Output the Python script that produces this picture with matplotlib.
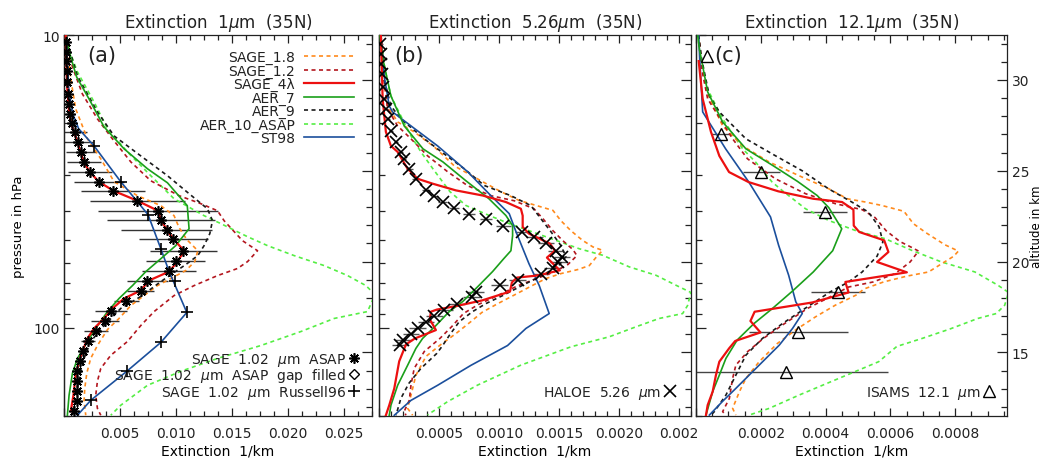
import numpy as np
import matplotlib.pyplot as plt
from matplotlib.lines import Line2D
from matplotlib.ticker import FixedLocator

plt.rcParams['font.family'] = ['DejaVu Sans']
plt.rcParams['lines.scale_dashes'] = False
plt.rcParams['text.color'] = '#222222'
plt.rcParams['xtick.color'] = '#222222'
plt.rcParams['ytick.color'] = '#222222'

# ---- data: extinction (1/km) vs altitude (km) ----
# panel (a) 1 um
a_sage18_ext = [0.0002, 0.0006, 0.00104, 0.00209, 0.00328, 0.00447, 0.00655, 0.00864, 0.00982, 0.01027, 0.01096, 0.01194, 0.01167, 0.01087, 0.00953, 0.00834, 0.00714, 0.00596, 0.00491, 0.00388, 0.00298, 0.00238, 0.00203, 0.00185, 0.00179, 0.00194]
a_sage18_alt = [32.47, 30.05, 28.41, 26.76, 25.66, 24.40, 23.63, 23.08, 22.53, 21.87, 21.21, 20.60, 20.0, 19.51, 19.07, 18.68, 18.13, 17.58, 16.87, 16.26, 15.38, 14.67, 13.85, 13.02, 12.31, 11.54]
a_sage12_ext = [0.0002, 0.00075, 0.00164, 0.00298, 0.00432, 0.00596, 0.00774, 0.01027, 0.01221, 0.0137, 0.01429, 0.01593, 0.01727, 0.01638, 0.01548, 0.0137, 0.01161, 0.00982, 0.00804, 0.00685, 0.00566, 0.00417, 0.00328, 0.00298, 0.00283, 0.00298, 0.00328]
a_sage12_alt = [32.47, 30.71, 29.23, 27.86, 26.76, 25.49, 24.45, 23.63, 23.19, 22.80, 22.25, 21.15, 20.60, 20.0, 19.62, 19.23, 18.68, 18.13, 17.25, 16.48, 15.60, 14.84, 14.12, 13.41, 12.64, 11.92, 11.54]
a_sage4_ext = [0.00015, 0.0002, 0.00029, 0.00042, 0.00064, 0.00096, 0.00131, 0.00167, 0.00221, 0.0031, 0.00441, 0.00655, 0.00839, 0.00864, 0.00917, 0.0098, 0.01072, 0.01013, 0.00938, 0.00759, 0.00685, 0.00536, 0.00432, 0.00357, 0.00268, 0.00209, 0.00164, 0.00134, 0.00104, 0.00084, 0.0006]
a_sage4_alt = [32.47, 31.15, 29.51, 28.41, 27.58, 27.03, 26.37, 25.66, 25.0, 24.40, 23.90, 23.35, 22.80, 22.31, 21.76, 21.21, 20.60, 20.0, 19.45, 18.96, 18.41, 17.97, 17.42, 16.87, 16.32, 15.77, 15.05, 14.51, 13.74, 12.64, 11.76]
a_aer7_ext = [0.00015, 0.0006, 0.00113, 0.00223, 0.00357, 0.00536, 0.00745, 0.00923, 0.0110, 0.01116, 0.00997, 0.00864, 0.0073, 0.00611, 0.00491, 0.00388, 0.00283, 0.00209, 0.0012, 0.00075, 0.00045, 0.0003]
a_aer7_alt = [32.47, 31.26, 30.16, 28.96, 27.42, 26.21, 25.11, 24.34, 23.08, 21.81, 20.88, 20.16, 19.45, 18.68, 17.97, 17.25, 16.32, 15.60, 14.67, 13.85, 12.64, 11.54]
a_aer9_ext = [0.0002, 0.0006, 0.0012, 0.00298, 0.00447, 0.00685, 0.00923, 0.01116, 0.0128, 0.01325, 0.01301, 0.0125, 0.01194, 0.01087, 0.00864, 0.00685, 0.00506, 0.00357, 0.00238, 0.00179, 0.00134, 0.00104, 0.00075]
a_aer9_alt = [32.47, 31.43, 30.22, 28.24, 26.92, 25.82, 24.73, 23.74, 22.91, 22.25, 21.54, 20.88, 20.33, 19.84, 18.90, 18.08, 17.42, 16.48, 15.60, 14.67, 13.57, 12.47, 11.54]
a_aer10_ext = [0.0002, 0.0006, 0.0012, 0.00268, 0.00388, 0.00566, 0.00774, 0.00982, 0.0125, 0.0140, 0.01638, 0.01816, 0.02054, 0.02322, 0.02531, 0.02694, 0.02775, 0.02709, 0.02411, 0.02114, 0.01757, 0.0137, 0.01042, 0.00745, 0.00506, 0.00417]
a_aer10_alt = [32.47, 31.43, 30.44, 28.79, 27.31, 26.04, 24.73, 23.46, 22.53, 22.09, 21.37, 20.88, 20.33, 19.78, 19.23, 18.68, 18.19, 17.25, 16.87, 16.15, 15.38, 14.67, 13.96, 13.19, 12.09, 11.54]
a_st98_ext = [0.0002, 0.00042, 0.00078, 0.00131, 0.00268, 0.00506, 0.00655, 0.0075, 0.00864, 0.00938, 0.01096, 0.00864, 0.0056, 0.00238, 0.0012]
a_st98_alt = [32.47, 29.51, 28.13, 27.31, 26.37, 24.40, 23.30, 22.58, 20.71, 19.45, 17.20, 15.55, 13.96, 12.36, 11.54]
# SAGE 1.02 um ASAP with error, and Russell96 points
a_asap_ext = [0.00018, 0.0002, 0.00021, 0.00024, 0.0003, 0.00039, 0.00045, 0.00054, 0.00069, 0.00096, 0.00129, 0.00149, 0.00179, 0.0023, 0.00313, 0.00441, 0.00655, 0.00839, 0.00864, 0.00917, 0.00977, 0.01066, 0.00997, 0.00938, 0.00745, 0.00685, 0.00557, 0.00423, 0.00366, 0.00283, 0.00216, 0.00173, 0.0014, 0.00118, 0.00113, 0.00113, 0.00113, 0.00091]
a_asap_alt = [32.09, 31.54, 31.04, 30.49, 29.89, 29.23, 28.68, 28.13, 27.64, 27.14, 26.59, 26.04, 25.49, 24.96, 24.41, 23.90, 23.35, 22.80, 22.29, 21.74, 21.23, 20.60, 20.05, 19.47, 18.92, 18.37, 17.82, 17.27, 16.72, 16.17, 15.62, 15.07, 14.52, 13.97, 13.42, 12.87, 12.32, 11.77]
a_asap_err = [0, 0, 0, 0, 0, 0, 0, 0, 0, 0.0011, 0.00134, 0.00134, 0.00149, 0.00194, 0.00223, 0.00286, 0.00424, 0.00536, 0.0048, 0.00406, 0.00305, 0.00302, 0.00263, 0.00238, 0.00179, 0.00119, 0.00112, 0.00143, 0.00125, 0.00107, 0.00063, 0.00036, 0.0002, 0, 0, 0, 0, 0]
a_russ_ext = [0.00268, 0.00506, 0.0075, 0.00864, 0.00989, 0.01096, 0.00864, 0.0056, 0.00238]
a_russ_alt = [26.37, 24.40, 22.58, 20.71, 18.92, 17.20, 15.55, 13.96, 12.36]

# panel (b) 5.26 um
b_sage18_ext = [0.0000167, 0.000042, 0.000072, 0.000156, 0.000294, 0.000461, 0.000628, 0.00085, 0.001017, 0.001167, 0.00145, 0.001517, 0.0016, 0.001697, 0.001783, 0.001864, 0.001808, 0.001753, 0.001656, 0.001517, 0.001392, 0.001283, 0.001125, 0.000983, 0.000858, 0.000767, 0.000642, 0.000517, 0.000392, 0.000308, 0.000267, 0.000239, 0.000281]
b_sage18_alt = [32.47, 30.05, 28.57, 27.69, 27.14, 26.32, 25.27, 24.45, 23.85, 23.37, 22.82, 22.25, 21.70, 21.17, 20.81, 20.62, 20.22, 19.78, 19.56, 19.34, 19.07, 18.70, 18.15, 17.66, 17.20, 16.70, 16.04, 15.44, 14.78, 13.74, 12.64, 11.92, 11.54]
b_sage12_ext = [0.0000167, 0.000042, 0.000072, 0.000156, 0.000267, 0.000406, 0.000572, 0.000739, 0.000933, 0.001128, 0.001292, 0.001367, 0.00145, 0.001533, 0.001617, 0.00165, 0.001575, 0.001458, 0.001292, 0.00115, 0.000996, 0.000829, 0.000704, 0.000608, 0.000508, 0.000378, 0.000294, 0.000267, 0.000253, 0.000211, 0.000225]
b_sage12_alt = [32.47, 30.05, 28.41, 27.47, 26.76, 25.82, 24.95, 24.18, 23.63, 23.35, 22.91, 22.36, 21.70, 21.15, 20.66, 20.33, 19.84, 19.43, 19.01, 18.65, 18.15, 17.64, 17.14, 16.43, 15.77, 15.05, 14.12, 13.19, 12.36, 11.76, 11.54]
b_sage4_ext = [0.0000167, 0.000031, 0.000058, 0.0001, 0.000156, 0.000239, 0.000323, 0.000448, 0.000642, 0.000864, 0.001058, 0.001183, 0.001198, 0.001198, 0.00125, 0.001425, 0.001467, 0.0014, 0.00145, 0.001508, 0.001317, 0.00115, 0.001108, 0.001092, 0.000858, 0.000642, 0.000483, 0.000433, 0.000425, 0.000475, 0.0003, 0.000225, 0.000169, 0.000128, 0.000086, 0.000058]
b_sage4_alt = [32.47, 28.96, 27.14, 26.37, 26.04, 25.11, 24.56, 24.29, 23.92, 23.64, 23.28, 22.91, 22.53, 21.91, 21.54, 20.99, 20.60, 20.22, 19.89, 19.52, 19.23, 19.12, 18.85, 18.35, 17.86, 17.55, 17.36, 17.24, 16.81, 16.23, 15.77, 15.44, 14.51, 13.02, 12.09, 11.54]
b_aer7_ext = [0.0000083, 0.000033, 0.0001, 0.000211, 0.000367, 0.000533, 0.000725, 0.000917, 0.001058, 0.001114, 0.001114, 0.0011, 0.00104, 0.000947, 0.000825, 0.000698, 0.000586, 0.000475, 0.000364, 0.000308, 0.000239, 0.000156, 0.0001, 0.000086]
b_aer7_alt = [32.47, 31.15, 29.12, 27.47, 26.21, 25.49, 24.45, 23.46, 22.54, 21.98, 21.43, 20.60, 20.16, 19.45, 18.63, 17.80, 17.25, 16.48, 15.77, 15.22, 14.29, 13.19, 12.09, 11.54]
b_aer9_ext = [0.0000167, 0.000042, 0.0001, 0.000183, 0.000378, 0.000544, 0.000711, 0.000878, 0.0011, 0.001267, 0.00135, 0.001433, 0.001517, 0.001558, 0.001492, 0.001333, 0.001198, 0.001031, 0.000892, 0.000781, 0.000669, 0.000586, 0.000531, 0.000483, 0.00035, 0.00025, 0.000183, 0.000142]
b_aer9_alt = [32.47, 30.05, 28.57, 27.86, 26.76, 25.93, 25.11, 24.19, 23.63, 23.08, 22.36, 21.65, 20.88, 20.27, 19.73, 19.15, 18.70, 18.13, 17.69, 17.25, 16.69, 15.93, 15.38, 14.95, 14.12, 13.30, 12.47, 11.54]
b_aer10_ext = [0.0000167, 0.00005, 0.0001, 0.000183, 0.000267, 0.00035, 0.00045, 0.000592, 0.000725, 0.000919, 0.001086, 0.001281, 0.001475, 0.001669, 0.001864, 0.002086, 0.002308, 0.002475, 0.0026, 0.002572, 0.002531, 0.002336, 0.002142, 0.001919, 0.0016, 0.001183, 0.000822, 0.000572, 0.000406]
b_aer10_alt = [32.47, 30.60, 29.12, 28.02, 26.92, 26.04, 25.11, 23.85, 23.09, 22.54, 22.09, 21.63, 21.17, 20.71, 20.35, 19.71, 19.25, 18.70, 18.30, 17.58, 17.14, 16.87, 16.41, 15.86, 15.31, 14.30, 13.20, 12.29, 11.56]
b_st98_ext = [0.0000167, 0.000044, 0.000086, 0.000114, 0.000211, 0.000489, 0.000739, 0.000933, 0.001086, 0.001142, 0.00125, 0.001336, 0.001419, 0.001225, 0.001072, 0.000767, 0.000489, 0.000267, 0.000128]
b_st98_alt = [32.47, 30.22, 28.57, 28.24, 27.75, 26.37, 24.95, 23.63, 22.64, 21.65, 19.89, 18.68, 17.14, 16.32, 15.38, 14.29, 13.19, 12.36, 11.54]
b_haloe_ext = [0.0000125, 0.0000167, 0.0000208, 0.000025, 0.0000333, 0.0000417, 0.0000583, 0.000075, 0.0001, 0.000142, 0.000183, 0.000208, 0.000253, 0.000308, 0.000392, 0.000461, 0.000531, 0.000628, 0.000753, 0.000896, 0.001038, 0.001192, 0.001294, 0.001392, 0.001475, 0.001525, 0.001496, 0.001448, 0.00135, 0.001156, 0.001008, 0.000808, 0.000773, 0.000648, 0.000544, 0.000461, 0.000392, 0.000323, 0.000267, 0.000204, 0.000175]
b_haloe_alt = [31.98, 31.43, 30.88, 30.33, 29.62, 28.96, 28.41, 27.86, 27.21, 26.59, 26.03, 25.66, 25.11, 24.56, 23.92, 23.61, 23.30, 22.97, 22.64, 22.32, 21.98, 21.65, 21.35, 21.01, 20.58, 20.26, 19.98, 19.67, 19.34, 18.99, 18.70, 18.30, 18.06, 17.67, 17.33, 17.01, 16.69, 16.32, 16.04, 15.68, 15.40]
b_haloe_err = [0.00002, 0.00002, 0.00002, 0.00002, 0.00002, 0.00002, 0.00002, 0.00002, 0.00002, 0.00002, 0.00002, 0.00002, 0.00003, 0.00003, 0.00003, 0.00003, 0.00004, 0.00004, 0.00005, 0.00005, 0.00006, 0.00006, 0.00007, 0.00007, 0.00007, 0.00007, 0.00007, 0.00007, 0.00007, 0.00007, 0.00007, 0.00007, 0.00007, 0.00007, 0.00007, 0.00007, 0.00007, 0.00007, 0.00007, 0.00007, 0.00007]

# panel (c) 12.1 um
c_sage18_ext = [0.0000083, 0.0000175, 0.000036, 0.0000822, 0.000144, 0.000226, 0.000328, 0.00041, 0.000467, 0.000523, 0.000574, 0.000642, 0.000671, 0.00071, 0.000768, 0.00081, 0.000796, 0.000759, 0.000718, 0.000651, 0.000579, 0.000518, 0.000498, 0.00043, 0.000369, 0.000307, 0.000251, 0.000195, 0.000154, 0.000134, 0.000113, 0.000123]
c_sage18_alt = [32.47, 30.88, 29.23, 27.47, 26.37, 25.48, 24.65, 24.01, 23.46, 23.28, 23.09, 22.77, 22.09, 21.59, 20.93, 20.58, 20.30, 19.89, 19.43, 19.20, 18.88, 18.49, 18.19, 17.60, 16.96, 16.23, 15.49, 14.49, 13.57, 12.84, 11.92, 11.55]
c_sage12_ext = [0.0000083, 0.0000175, 0.000036, 0.000113, 0.000159, 0.000245, 0.000338, 0.00043, 0.000513, 0.000553, 0.000587, 0.00063, 0.000667, 0.000687, 0.000661, 0.000615, 0.000547, 0.000471, 0.000414, 0.000344, 0.000266, 0.000208, 0.000159, 0.000123, 0.000113, 0.000103, 0.0000822, 0.0000923]
c_sage12_alt = [32.47, 30.60, 28.96, 26.76, 25.66, 24.56, 23.74, 23.19, 22.86, 22.42, 21.70, 21.10, 20.77, 20.58, 19.98, 19.34, 18.88, 18.60, 18.06, 17.42, 16.50, 15.77, 15.04, 14.30, 13.57, 12.47, 11.74, 11.55]
c_sage4_ext = [0.0000083, 0.0000206, 0.0000462, 0.000072, 0.000102, 0.000162, 0.000254, 0.000362, 0.000451, 0.000486, 0.000487, 0.000504, 0.000581, 0.000594, 0.000559, 0.000651, 0.000461, 0.000471, 0.000359, 0.000181, 0.000168, 0.000199, 0.000121, 0.000102, 0.000072, 0.0000615, 0.0000514, 0.000036, 0.0000308]
c_sage4_alt = [31.04, 28.96, 27.14, 25.82, 24.93, 24.38, 23.87, 23.46, 23.28, 22.86, 21.98, 21.63, 21.17, 20.53, 19.98, 19.41, 18.88, 18.30, 17.75, 17.24, 16.73, 16.10, 15.63, 15.22, 14.49, 13.75, 12.84, 12.10, 11.55]
c_aer7_ext = [0.0000052, 0.0000105, 0.000036, 0.0000822, 0.000154, 0.000239, 0.000313, 0.000374, 0.00041, 0.00045, 0.000422, 0.000362, 0.000298, 0.000236, 0.000179, 0.000127, 0.0000923, 0.000072, 0.0000514, 0.0000308]
c_aer7_alt = [32.47, 31.70, 29.34, 27.69, 26.21, 25.27, 24.42, 23.64, 22.97, 21.81, 20.60, 19.43, 18.38, 17.42, 16.59, 15.68, 14.67, 13.75, 12.84, 11.55]
c_aer9_ext = [0.0000083, 0.0000175, 0.0000412, 0.000072, 0.000154, 0.000246, 0.000328, 0.000409, 0.000481, 0.000532, 0.000565, 0.000577, 0.000559, 0.000513, 0.000471, 0.000414, 0.000344, 0.000267, 0.000205, 0.000154, 0.000123, 0.0000923, 0.0000566, 0.0000462]
c_aer9_alt = [32.47, 31.15, 29.12, 28.24, 26.76, 25.82, 25.0, 24.01, 23.28, 22.73, 21.92, 21.08, 20.30, 19.43, 18.88, 18.33, 17.51, 16.59, 15.77, 14.85, 13.75, 12.65, 11.74, 11.55]
c_aer10_ext = [0.0000083, 0.0000105, 0.0000308, 0.0000822, 0.000144, 0.000184, 0.000235, 0.000267, 0.000338, 0.000409, 0.000491, 0.000584, 0.000666, 0.000758, 0.000861, 0.000932, 0.000965, 0.000953, 0.000927, 0.00087, 0.000784, 0.000698, 0.00062, 0.000564, 0.000441, 0.000318, 0.000226, 0.000164]
c_aer10_alt = [32.47, 31.70, 29.67, 27.86, 26.21, 25.48, 24.38, 23.90, 22.91, 22.27, 21.72, 21.26, 20.62, 19.98, 19.43, 18.70, 18.30, 17.60, 17.14, 16.87, 16.29, 15.77, 15.33, 14.49, 13.57, 12.65, 11.92, 11.55]
c_st98_ext = [0.0000083, 0.0000114, 0.0000206, 0.0000914, 0.000163, 0.00023, 0.000255, 0.000286, 0.000308, 0.000328, 0.000298, 0.000257, 0.000195, 0.000123, 0.0000822, 0.0000412]
c_st98_alt = [32.47, 31.15, 28.24, 26.21, 24.38, 22.46, 20.90, 19.25, 17.79, 17.14, 16.32, 15.40, 14.30, 13.02, 12.31, 11.55]
c_isams_ext = [0.0000329, 0.0000775, 0.000202, 0.000398, 0.000439, 0.000316, 0.000277]
c_isams_alt = [31.30, 27.03, 24.92, 22.72, 18.30, 16.10, 13.90]
c_isams_err = [0.0, 0.0000323, 0.0000575, 0.0000677, 0.0000831, 0.000152, 0.000316]

series_names = ['SAGE_1.8', 'SAGE_1.2', 'SAGE_4λ', 'AER_7', 'AER_9', 'AER_10_ASAP', 'ST98']
series_colors = ['#FF8A1C', '#B3161E', '#EC1010', '#1A9F1A', '#1A1A1A', '#55EE44', '#1B4F9C']
series_dashed = [True, True, False, False, True, True, False]
draw_order = [5, 0, 1, 4, 6, 3, 2]

titles = ['Extinction  1$\\mu$m  (35N)', 'Extinction  5.26$\\mu$m  (35N)', 'Extinction  12.1$\\mu$m  (35N)']
panel_tags = ['(a)', '(b)', '(c)']
x_max = [0.0275, 0.0026, 0.00096]
x_major = [[0, 0.005, 0.010, 0.015, 0.020, 0.025],
           [0, 0.0005, 0.0010, 0.0015, 0.0020, 0.0025],
           [0, 0.0002, 0.0004, 0.0006, 0.0008]]
x_labels = [['', '0.005', '0.010', '0.015', '0.020', '0.025'],
            ['', '0.0005', '0.0010', '0.0015', '0.0020', '0.002'],
            ['', '0.0002', '0.0004', '0.0006', '0.0008']]
x_minor = [0.00125, 0.0001, 0.00005]
p_major = [10, 100]
p_minor = [20, 30, 40, 50, 60, 70, 80, 90, 200]

# log-pressure altitude, scale height 7 km
P0 = 1034.0
H = 7.0
def alt2p(z):
    return P0 * np.exp(-np.asarray(z, dtype=float) / H)
def p2alt(p):
    return H * np.log(P0 / np.clip(np.asarray(p, dtype=float), 1e-6, None))

Z_BOT = float(p2alt(200))
Z_TOP = float(p2alt(10))

DASH = (0, (2.9, 2.5))
INK = '#222222'

fig = plt.figure(figsize=(10.41, 4.60), dpi=100)
rects = [[0.0615, 0.0935, 0.296, 0.828],
         [0.364, 0.0935, 0.2997, 0.828],
         [0.6686, 0.0935, 0.2987, 0.828]]
axes = [fig.add_axes(r) for r in rects]

panel_data = [
    [(a_sage18_ext, a_sage18_alt), (a_sage12_ext, a_sage12_alt), (a_sage4_ext, a_sage4_alt),
     (a_aer7_ext, a_aer7_alt), (a_aer9_ext, a_aer9_alt), (a_aer10_ext, a_aer10_alt), (a_st98_ext, a_st98_alt)],
    [(b_sage18_ext, b_sage18_alt), (b_sage12_ext, b_sage12_alt), (b_sage4_ext, b_sage4_alt),
     (b_aer7_ext, b_aer7_alt), (b_aer9_ext, b_aer9_alt), (b_aer10_ext, b_aer10_alt), (b_st98_ext, b_st98_alt)],
    [(c_sage18_ext, c_sage18_alt), (c_sage12_ext, c_sage12_alt), (c_sage4_ext, c_sage4_alt),
     (c_aer7_ext, c_aer7_alt), (c_aer9_ext, c_aer9_alt), (c_aer10_ext, c_aer10_alt), (c_st98_ext, c_st98_alt)],
]

legend_lines = {}
for k, ax in enumerate(axes):
    for i in draw_order:
        ext, alt = panel_data[k][i]
        ln, = ax.plot(ext, alt, color=series_colors[i],
                      ls=DASH if series_dashed[i] else '-',
                      lw=1.6 if i == 2 else 1.2, zorder=3 + (i == 2),
                      label=series_names[i])
        if k == 0:
            legend_lines[i] = ln

    ax.set_xlim(0, x_max[k])
    ax.set_ylim(Z_BOT, Z_TOP)
    ax.set_xticks(x_major[k], x_labels[k])
    ax.xaxis.set_minor_locator(FixedLocator(np.arange(0, x_max[k] + 1e-12, x_minor[k])))
    ax.tick_params(axis='x', which='both', direction='in', top=True, bottom=True,
                   labelsize=10, pad=7)
    ax.tick_params(axis='x', which='major', length=6, width=0.9)
    ax.tick_params(axis='x', which='minor', length=3.5, width=0.9)
    ax.set_xlabel('Extinction  1/km', fontsize=10, labelpad=3)
    ax.set_title(titles[k], fontsize=12, pad=6)

    # altitude ticks on the right
    ax.set_yticks([15, 20, 25, 30])
    ax.yaxis.set_minor_locator(FixedLocator(np.arange(12, 33, 1)))
    ax.tick_params(axis='y', which='both', direction='in', left=False, right=True,
                   labelleft=False, labelright=(k == 2), labelsize=10, pad=3.5)
    ax.tick_params(axis='y', which='major', length=7, width=0.9)
    ax.tick_params(axis='y', which='minor', length=4, width=0.9)

    # pressure ticks on the left
    sec = ax.secondary_yaxis('left', functions=(alt2p, p2alt))
    sec.yaxis.set_major_locator(FixedLocator(p_major))
    sec.yaxis.set_minor_locator(FixedLocator(p_minor))
    sec.set_yticks(p_major, ['10', '100'] if k == 0 else ['', ''])
    sec.tick_params(axis='y', which='both', direction='in', labelsize=10, pad=3, width=0.9)
    sec.tick_params(axis='y', which='major', length=7)
    sec.tick_params(axis='y', which='minor', length=4)
    sec.yaxis.set_minor_formatter(plt.NullFormatter())
    for sp in sec.spines.values():
        sp.set_color(INK)
        sp.set_linewidth(0.9)
    if k == 0:
        sec.set_ylabel('pressure in hPa', fontsize=9.5, labelpad=6)

    for sp in ax.spines.values():
        sp.set_color(INK)
        sp.set_linewidth(0.9)

    ax.text([0.075, 0.05, 0.06][k], 0.947, panel_tags[k], transform=ax.transAxes,
            fontsize=15, ha='left', va='center')

axes[2].yaxis.set_label_position('right')
axes[2].set_ylabel('altitude in km', fontsize=8.5)
axes[2].yaxis.set_label_coords(1.074, 0.5)

# observations
ax = axes[0]
ax.errorbar(a_asap_ext, a_asap_alt, xerr=a_asap_err, fmt='none', ecolor='#333333',
            elinewidth=1.0, capsize=0, zorder=2)
ax.plot(a_asap_ext, a_asap_alt, ls='none', marker=(8, 2, 0), ms=7.5, mew=1.2,
        color='k', zorder=6)
ax.plot(a_russ_ext, a_russ_alt, ls='none', marker='+', ms=8, mew=1.2, color='k', zorder=6)

ax = axes[1]
ax.errorbar(b_haloe_ext, b_haloe_alt, xerr=b_haloe_err, fmt='none', ecolor='#555555',
            elinewidth=1.0, capsize=0, zorder=2)
ax.plot(b_haloe_ext, b_haloe_alt, ls='none', marker='x', ms=8, mew=1.2, color='k', zorder=6)

ax = axes[2]
ax.errorbar(c_isams_ext, c_isams_alt, xerr=c_isams_err, fmt='none', ecolor='#444444',
            elinewidth=1.0, capsize=0, zorder=2)
ax.plot(c_isams_ext, c_isams_alt, ls='none', marker='^', ms=8, mew=1.0, mfc='none',
        color='k', zorder=6)

# legends
leg1 = axes[0].legend([legend_lines[i] for i in range(7)], series_names,
                      loc='upper right', bbox_to_anchor=(0.94, 0.96), frameon=False,
                      markerfirst=False, fontsize=10, handlelength=3.6, handletextpad=0.6,
                      labelspacing=-0.05, borderpad=0, borderaxespad=0)
axes[0].add_artist(leg1)
obs_handles = [Line2D([], [], ls='none', marker=(8, 2, 0), ms=7.5, mew=1.2, color='k'),
               Line2D([], [], ls='none', marker='D', ms=5.5, mew=1.0, mfc='none', color='k'),
               Line2D([], [], ls='none', marker='+', ms=8, mew=1.2, color='k')]
obs_labels = ['SAGE  1.02  $\\mu$m  ASAP', 'SAGE  1.02  $\\mu$m  ASAP  gap  filled',
              'SAGE  1.02  $\\mu$m  Russell96']
axes[0].legend(obs_handles, obs_labels, loc='lower right', bbox_to_anchor=(0.96, 0.04),
               frameon=False, markerfirst=False, fontsize=10, handlelength=0.8,
               handletextpad=0.2, labelspacing=-0.1, borderpad=0, borderaxespad=0)
axes[1].legend([Line2D([], [], ls='none', marker='x', ms=8, mew=1.2, color='k')],
               ['HALOE  5.26  $\\mu$m'], loc='lower right', bbox_to_anchor=(0.95, 0.04),
               frameon=False, markerfirst=False, fontsize=10, handlelength=0.8,
               handletextpad=0.2, borderpad=0, borderaxespad=0)
axes[2].legend([Line2D([], [], ls='none', marker='^', ms=8, mew=1.0, mfc='none', color='k')],
               ['ISAMS  12.1  $\\mu$m'], loc='lower right', bbox_to_anchor=(0.96, 0.04),
               frameon=False, markerfirst=False, fontsize=10, handlelength=0.8,
               handletextpad=0.2, borderpad=0, borderaxespad=0)

fig.savefig('out.png', dpi=100)
